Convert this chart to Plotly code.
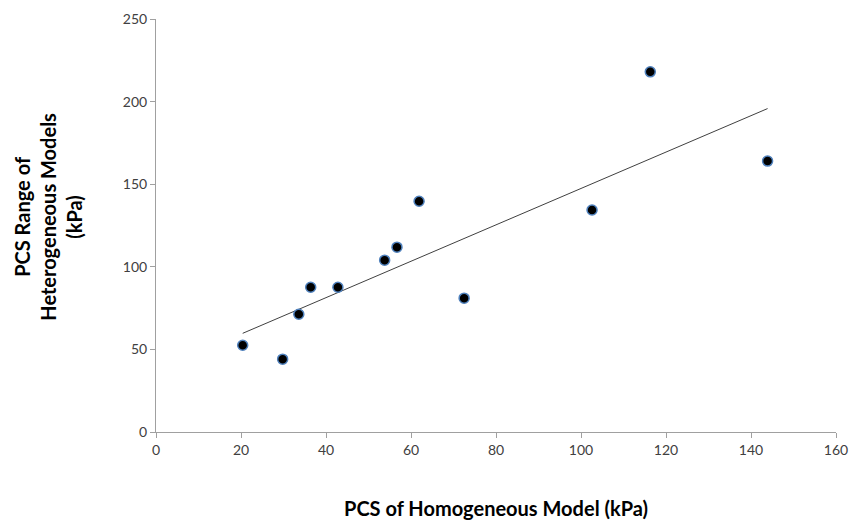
import numpy as np
import plotly.graph_objects as go

# Data
homogeneous_pcs = [20.4, 29.8, 33.6, 36.4, 42.8, 53.8, 56.7, 61.9, 72.5, 102.6, 116.3, 143.9]
heterogeneous_range = [52.5, 44.1, 71.3, 87.6, 87.6, 104.0, 111.9, 139.7, 81.0, 134.4, 218.0, 164.0]

x_ticks = [0, 20, 40, 60, 80, 100, 120, 140, 160]
y_ticks = [0, 50, 100, 150, 200, 250]

# Linear trend line (least squares)
slope, intercept = np.polyfit(homogeneous_pcs, heterogeneous_range, 1)
trend_x = [min(homogeneous_pcs), max(homogeneous_pcs)]
trend_y = [slope * v + intercept for v in trend_x]

fig = go.Figure()
fig.add_trace(go.Scatter(
    x=trend_x, y=trend_y, mode="lines",
    line=dict(color="#404040", width=1), hoverinfo="skip", showlegend=False,
))
fig.add_trace(go.Scatter(
    x=homogeneous_pcs, y=heterogeneous_range, mode="markers",
    marker=dict(size=10, color="black", line=dict(color="#4F81BD", width=1.5)),
    showlegend=False,
))

FONT = "Lato, Open Sans, sans-serif"
axis_font = dict(family=FONT, size=14, color="#404040")
fig.update_layout(
    width=849, height=521,
    margin=dict(l=156, r=13, t=19, b=89, autoexpand=False),
    paper_bgcolor="white", plot_bgcolor="white",
    xaxis=dict(
        range=[0, 160], tickvals=x_ticks, showgrid=False, zeroline=False,
        showline=True, linecolor="#A0A0A0", linewidth=1, automargin=False,
        ticks="outside", ticklen=5, tickcolor="#A0A0A0", tickfont=axis_font,
    ),
    yaxis=dict(
        range=[0, 250], tickvals=y_ticks, showgrid=False, zeroline=False,
        showline=True, linecolor="#A0A0A0", linewidth=1, automargin=False,
        ticks="outside", ticklen=5, tickcolor="#A0A0A0", tickfont=axis_font,
    ),
    annotations=[
        dict(text="<b>PCS of Homogeneous Model (kPa)</b>", xref="paper", yref="paper",
             x=0.5, y=-0.183, xanchor="center", yanchor="middle", showarrow=False,
             font=dict(family=FONT, size=20, color="black")),
        dict(text="<b>PCS Range of<br>Heterogeneous Models<br>(kPa)</b>", xref="paper", yref="paper",
             x=-0.159, y=0.521, xanchor="center", yanchor="middle", showarrow=False,
             textangle=-90, align="center",
             font=dict(family=FONT, size=20, color="black")),
    ],
)

fig.write_html("out.html", config={"displayModeBar": False},
               post_script="document.body.style.margin='0';")
